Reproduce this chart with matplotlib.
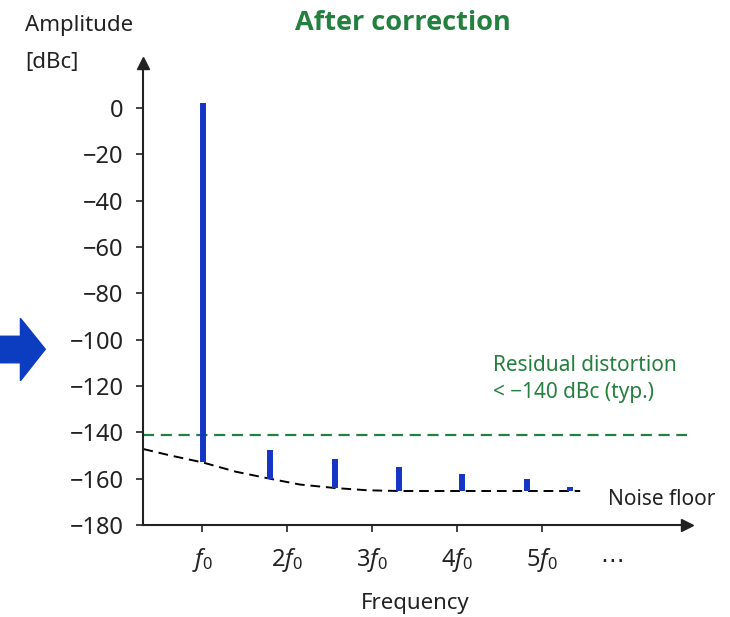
import matplotlib.pyplot as plt
from matplotlib.patches import Polygon

plt.rcParams['font.family'] = ['Noto Sans', 'DejaVu Sans']
plt.rcParams['mathtext.fontset'] = 'custom'
plt.rcParams['mathtext.rm'] = 'Noto Sans'
plt.rcParams['mathtext.it'] = 'Noto Sans:italic'

# harmonic tick positions / labels
tick_pos = [1, 2, 3, 4, 5]
tick_labels = [r'$f_0$', r'$2f_0$', r'$3f_0$', r'$4f_0$', r'$5f_0$']

# spectral lines (position, top dB, bottom dB)
line_x = [1.01, 1.80, 2.56, 3.32, 4.06, 4.82, 5.33]
line_top = [2, -147.5, -151.5, -155, -158, -160, -163.5]
line_bot = [-153, -160, -164, -165.3, -165.3, -165.3, -165.3]

# noise floor curve
floor_x = [0.31, 0.63, 1.01, 1.40, 1.80, 2.15, 2.56, 2.95, 3.32, 4.2, 5.45]
floor_y = [-147.2, -150, -153, -157, -160, -162.5, -164, -165, -165.3, -165.3, -165.3]

residual = -141

blue = '#1536c4'
green = '#23803f'
dark = '#222222'

fig = plt.figure(figsize=(7.3, 6.17), dpi=100)
ax = fig.add_axes([0.196, 0.149, 0.745, 0.749])

ax.plot(floor_x, floor_y, color='black', ls=(0, (5, 3)), lw=1.4, zorder=2)
for x, t, b in zip(line_x, line_top, line_bot):
    ax.plot([x, x], [b, t], color=blue, lw=4.3, solid_capstyle='butt', zorder=3)
ax.axhline(residual, xmin=0, xmax=1.0, color=green, ls=(0, (5, 3)), lw=1.6, zorder=1)

ax.set_xlim(0.306, 6.706)
ax.set_ylim(-180, 19.4)
ax.set_yticks(range(-180, 1, 20))
ax.set_xticks(tick_pos)
ax.set_xticklabels(tick_labels)
ax.tick_params(labelsize=17, length=5, width=1.2, color=dark, labelcolor=dark)
ax.tick_params(axis='y', pad=9)
ax.tick_params(axis='x', pad=10)

for s in ['top', 'right']:
    ax.spines[s].set_visible(False)
for s in ['left', 'bottom']:
    ax.spines[s].set_color(dark)
    ax.spines[s].set_linewidth(1.5)
ax.plot(1, 0, '>', color=dark, ms=9, transform=ax.transAxes, clip_on=False)
ax.plot(0, 1, '^', color=dark, ms=9, transform=ax.transAxes, clip_on=False)

ax.set_xlabel('Frequency', fontsize=16, color=dark, labelpad=14)
ax.text(5.82, -195.5, '\u22ef', fontsize=17, ha='center', va='center', color=dark,
        family='DejaVu Sans')

fig.text(0.034, 0.959, 'Amplitude', fontsize=16, ha='left', va='center', color=dark)
fig.text(0.034, 0.899, '[dBc]', fontsize=16, ha='left', va='center', color=dark)
fig.text(0.552, 0.962, 'After correction', fontsize=19.5, fontweight='bold',
         ha='center', va='center', color=green, family='Open Sans')

ax.text(4.42, -117, 'Residual distortion\n< \u2212140 dBc (typ.)', fontsize=15,
        color=green, ha='left', va='center', linespacing=1.35)
ax.text(5.78, -169, 'Noise floor', fontsize=15, color=dark, ha='left', va='center')

# blue arrow on the left edge
arrow = Polygon([(0.0, 0.455), (0.028, 0.455), (0.028, 0.484), (0.062, 0.434),
                 (0.028, 0.383), (0.028, 0.412), (0.0, 0.412)],
                closed=True, color='#0c3cc0', transform=fig.transFigure)
fig.patches.append(arrow)

fig.savefig('out.png', dpi=100)
